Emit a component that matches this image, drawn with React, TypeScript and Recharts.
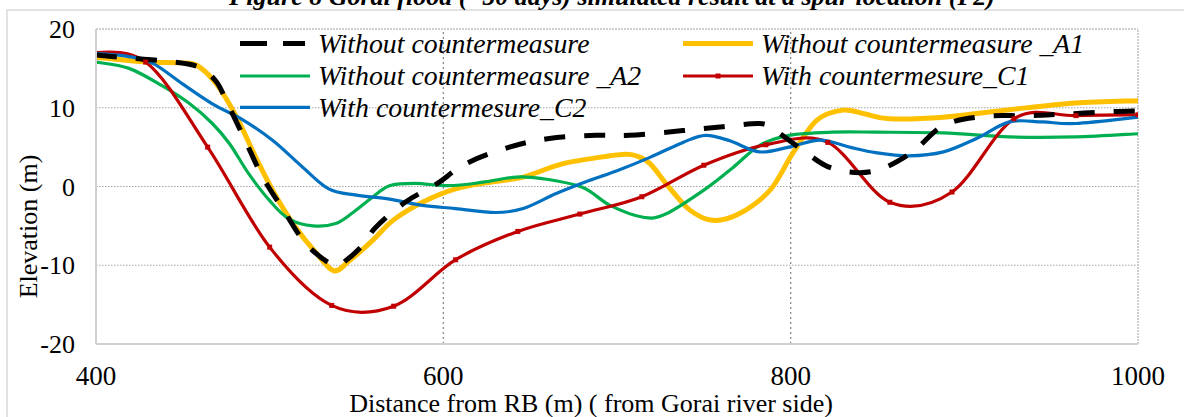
import React from 'react';
import { LineChart, Line, XAxis, YAxis, ReferenceLine, Legend } from 'recharts';

// ---------- data ----------
const xTicks = [400, 600, 800, 1000];
const yTicks = [-20, -10, 0, 10, 20];

const noCmX = [400, 420, 441, 459, 469, 475, 486, 496, 508, 521, 537, 545, 555, 561, 578, 596, 613, 638, 661, 688, 707, 738, 761, 782, 790, 807, 824, 847, 869, 888, 911, 936, 959, 984, 1000];
const noCmY = [16.7, 16.3, 15.9, 15.2, 13.4, 10.9, 5.8, 1.2, -3.0, -7.3, -10.0, -9.2, -7.1, -5.2, -2.0, 0.3, 2.9, 5.0, 6.1, 6.5, 6.5, 7.1, 7.6, 8.0, 7.3, 4.6, 2.3, 1.9, 4.2, 7.75, 8.9, 9.0, 9.2, 9.5, 9.6];

const a1X = [400, 429, 448, 458, 469, 481, 492, 504, 515, 527, 537, 546, 559, 571, 588, 607, 627, 646, 669, 696, 705, 711, 719, 730, 742, 755, 770, 788, 801, 815, 830, 843, 857, 888, 926, 964, 1000];
const a1Y = [16.4, 15.8, 15.7, 15.4, 13.1, 8.8, 3.7, -1.4, -5.2, -8.5, -10.7, -9.4, -6.9, -4.3, -2.0, -0.3, 0.55, 1.2, 2.9, 3.9, 4.1, 3.9, 2.9, -0.1, -3.0, -4.3, -3.5, -0.5, 4.15, 8.4, 9.7, 9.2, 8.6, 8.8, 9.75, 10.6, 10.9];

const a2X = [400, 419, 438, 454, 467, 477, 488, 500, 511, 525, 538, 548, 559, 569, 584, 603, 623, 642, 657, 680, 696, 715, 728, 751, 767, 782, 799, 824, 849, 888, 926, 964, 1000];
const a2Y = [15.8, 15.0, 12.8, 10.5, 8.0, 5.4, 1.6, -1.8, -4.1, -5.0, -4.7, -3.3, -1.4, 0.1, 0.4, 0.1, 0.55, 1.2, 1.0, -0.1, -2.4, -3.9, -3.5, -0.3, 2.45, 5.2, 6.5, 6.9, 6.9, 6.8, 6.3, 6.3, 6.7];

const c1X = [392.9, 428.6, 464.3, 500, 535.7, 571.4, 607.1, 642.9, 678.6, 714.3, 750, 785.7, 821.4, 857.1, 892.9, 928.6, 964.3, 1000];
const c1Y = [17.0, 15.8, 5.0, -7.7, -15.1, -15.2, -9.3, -5.7, -3.5, -1.3, 2.7, 5.3, 5.6, -2.0, -0.7, 8.6, 9.0, 9.1];

const c2X = [400, 419, 433, 450, 467, 485, 502, 519, 534, 550, 569, 588, 607, 630, 646, 665, 684, 700, 719, 738, 751, 765, 782, 799, 817, 834, 849, 868, 888, 907, 926, 945, 964, 1000];
const c2Y = [16.9, 16.5, 15.6, 13.0, 10.5, 8.4, 5.8, 2.45, -0.3, -1.1, -1.6, -2.4, -2.8, -3.3, -2.8, -0.9, 0.75, 2.0, 3.7, 5.6, 6.5, 5.8, 4.4, 5.0, 5.9, 5.0, 4.3, 3.9, 4.4, 6.1, 8.2, 8.2, 8.0, 8.8];

const toRows = (xs: number[], ys: number[]) => xs.map((x, i) => ({ x, y: ys[i] }));

// ---------- Excel-like smoothing (Catmull-Rom) ----------
const excelSmooth = (context: any) => {
  let pts: number[][] = [];
  return {
    areaStart() {},
    areaEnd() {},
    lineStart() {
      pts = [];
    },
    point(x: number, y: number) {
      pts.push([+x, +y]);
    },
    lineEnd() {
      const n = pts.length;
      if (!n) return;
      context.moveTo(pts[0][0], pts[0][1]);
      for (let i = 0; i < n - 1; i++) {
        const p0 = pts[Math.max(i - 1, 0)];
        const p1 = pts[i];
        const p2 = pts[i + 1];
        const p3 = pts[Math.min(i + 2, n - 1)];
        context.bezierCurveTo(
          p1[0] + (p2[0] - p0[0]) / 6,
          p1[1] + (p2[1] - p0[1]) / 6,
          p2[0] - (p3[0] - p1[0]) / 6,
          p2[1] - (p3[1] - p1[1]) / 6,
          p2[0],
          p2[1]
        );
      }
    },
  };
};

const FONT = '"Liberation Serif", "Times New Roman", serif';
const RED = '#C00000';

const RedMarker = (p: any) => {
  if (p.cx == null || p.cy == null) return <g key={`m-${p.index}`} />;
  return <rect key={`m-${p.index}`} x={p.cx - 2.5} y={p.cy - 2.5} width={5} height={5} fill={RED} />;
};

const legendItems = [
  { name: 'Without countermeasure', color: '#000000', width: 5, dash: '27 16', col: 0, row: 0, marker: false },
  { name: 'Without countermeasure _A1', color: '#FFC000', width: 5, dash: undefined, col: 1, row: 0, marker: false },
  { name: 'Without countermeasure _A2', color: '#00B050', width: 3.2, dash: undefined, col: 0, row: 1, marker: false },
  { name: 'With countermesure_C1', color: RED, width: 3.2, dash: undefined, col: 1, row: 1, marker: true },
  { name: 'With countermesure_C2', color: '#0070C0', width: 3.2, dash: undefined, col: 0, row: 2, marker: false },
];

const LegendBox = () => {
  const colX = [10, 453];
  const lineY = [18.5, 51, 82.3];
  const baseY = [28, 59.5, 91.5];
  return (
    <svg width={900} height={100} style={{ display: 'block', overflow: 'visible' }}>
      {legendItems.map((it) => {
        const x0 = colX[it.col];
        const x1 = x0 + (it.dash ? 65 : 70);
        return (
          <g key={it.name}>
            <line x1={x0} x2={x1} y1={lineY[it.row]} y2={lineY[it.row]} stroke={it.color} strokeWidth={it.width} strokeDasharray={it.dash} />
            {it.marker && <rect x={(x0 + x1) / 2 - 2.5} y={lineY[it.row] - 2.5} width={5} height={5} fill={it.color} />}
            <text x={x0 + 78} y={baseY[it.row]} fontFamily={FONT} fontStyle="italic" fontSize={27.8} fill="#000">
              {it.name}
            </text>
          </g>
        );
      })}
    </svg>
  );
};

export default function App() {
  const tickStyle = { fill: '#000', fontFamily: FONT };
  return (
    <div style={{ position: 'absolute', left: 0, top: 0, width: 1184, height: 417, overflow: 'hidden', background: '#fff' }}>
      <svg width={1184} height={417} style={{ position: 'absolute', left: 0, top: 0 }}>
        <rect x={7} y={10} width={1400} height={600} fill="none" stroke="#d9d9d9" strokeWidth={1.5} />
        <text x={612} y={5} textAnchor="middle" fontFamily={FONT} fontWeight="bold" fontStyle="italic" fontSize={26} fill="#000">
          Figure 8 Gorai flood (~50 days) simulated result at a spur location (P2)
        </text>
        <text x={591} y={412} textAnchor="middle" fontFamily={FONT} fontSize={26} fill="#000">
          Distance from RB (m) ( from Gorai river side)
        </text>
        <text x={0} y={0} transform="translate(37,226.5) rotate(-90)" textAnchor="middle" fontFamily={FONT} fontSize={26} fill="#000">
          Elevation (m)
        </text>
      </svg>
      <div style={{ position: 'absolute', left: 0, top: 0 }}>
        <LineChart width={1184} height={417} margin={{ top: 29, right: 46, bottom: 33, left: 16 }}>
          <XAxis
            type="number"
            dataKey="x"
            domain={[400, 1000]}
            ticks={xTicks}
            allowDataOverflow
            axisLine={{ stroke: '#d0d0d0', strokeWidth: 2 }}
            tickLine={false}
            tickSize={0}
            tickMargin={22}
            height={40}
            tick={{ ...tickStyle, fontSize: 27 }}
            interval={0}
          />
          <YAxis
            type="number"
            dataKey="y"
            domain={[-20, 20]}
            ticks={yTicks}
            allowDataOverflow
            axisLine={{ stroke: '#d0d0d0', strokeWidth: 2 }}
            tickLine={false}
            tickSize={0}
            tickMargin={21}
            width={80}
            tick={{ ...tickStyle, fontSize: 26 }}
            interval={0}
          />
          {[10, 0, -10].map((v) => (
            <ReferenceLine key={`h${v}`} y={v} stroke="#a6a6a6" strokeWidth={1.2} strokeDasharray="1.5 1.5" />
          ))}
          {[600, 800].map((v) => (
            <ReferenceLine key={`v${v}`} x={v} stroke="#8c8c8c" strokeWidth={1.3} strokeDasharray="2 3" />
          ))}
          <ReferenceLine y={20} stroke="#cfcfcf" strokeWidth={2} strokeDasharray="2 1" />
          <ReferenceLine x={1000} stroke="#cfcfcf" strokeWidth={2} strokeDasharray="2 1" />

          <Line data={toRows(a1X, a1Y)} dataKey="y" name="Without countermeasure _A1" type={excelSmooth as any} stroke="#FFC000" strokeWidth={5} dot={false} isAnimationActive={false} />
          <Line data={toRows(a2X, a2Y)} dataKey="y" name="Without countermeasure _A2" type={excelSmooth as any} stroke="#00B050" strokeWidth={3.2} dot={false} isAnimationActive={false} />
          <Line data={toRows(c1X, c1Y)} dataKey="y" name="With countermesure_C1" type={excelSmooth as any} stroke={RED} strokeWidth={3.2} dot={RedMarker} isAnimationActive={false} />
          <Line data={toRows(c2X, c2Y)} dataKey="y" name="With countermesure_C2" type={excelSmooth as any} stroke="#0070C0" strokeWidth={3.2} dot={false} isAnimationActive={false} />
          <Line data={toRows(noCmX, noCmY)} dataKey="y" name="Without countermeasure" type={excelSmooth as any} stroke="#000000" strokeWidth={5} strokeDasharray="21 19" dot={false} isAnimationActive={false} />

          <Legend
            layout="horizontal"
            verticalAlign="middle"
            align="center"
            content={() => <LegendBox />}
            wrapperStyle={{ left: 230, top: 25, width: 900, height: 100 }}
          />
        </LineChart>
      </div>
    </div>
  );
}
